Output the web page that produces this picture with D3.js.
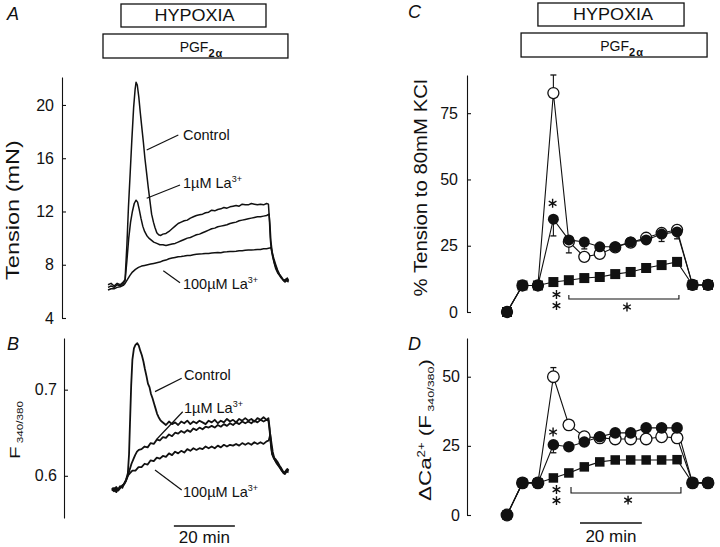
<!DOCTYPE html>
<html><head><meta charset="utf-8">
<script src="https://cdn.jsdelivr.net/npm/d3@7/dist/d3.min.js"></script>
<style>
body{margin:0;background:#fff}
svg{display:block;font-family:"Liberation Sans",Arial,Helvetica,sans-serif}
</style></head><body>
<svg id="c" width="720" height="547"></svg>
<script>
// ===== Panel A: tension traces (time in min, mN) =====
const tensionControl = [[0,6.5],[1,6.6],[2,6.4],[3,6.6],[4,6.5],[5,6.7],[5.6,6.9],[6.2,9.5],[6.7,12.3],[7.3,15.0],[7.8,17.3],[8.4,19.8],[8.9,21.2],[9.2,21.7],[9.6,21.5],[10.1,20.6],[10.6,19.4],[11.0,18.5],[11.6,17.2],[12.1,16.0],[12.7,14.8],[13.2,13.8],[13.8,12.7],[14.3,11.8],[14.9,11.2],[15.4,10.8],[16.0,10.4],[16.6,10.25],[17.3,10.2],[18,10.3],[19,10.35],[20,10.5],[21,10.7],[22,10.9],[23,11.1],[24,11.2],[25,11.3],[26,11.35],[27,11.5],[28,11.6],[29,11.7],[30,11.75],[31,11.8],[32,11.9],[33,11.95],[34,12.1],[35,12.05],[36,12.15],[37,12.2],[38,12.3],[39,12.25],[40,12.35],[41,12.4],[42,12.45],[43,12.4],[44,12.55],[45,12.5],[46,12.5],[47,12.6],[48,12.55],[49,12.5],[50,12.55],[51,12.5],[52,12.6],[52.6,12.55],[52.9,11.5],[53.2,10.0],[53.5,9.2],[54,8.6],[54.6,8.1],[55.2,7.7],[55.8,7.4],[56.4,7.2],[57,7.0],[57.6,6.8],[58.2,6.9],[58.8,7.0],[59.2,6.8]];
const tensionLa1 = [[0,6.3],[1,6.4],[2,6.3],[3,6.5],[4,6.4],[5,6.6],[5.6,6.8],[6.2,8.3],[6.8,10.0],[7.4,11.2],[8.0,12.0],[8.6,12.6],[9.2,12.85],[9.7,12.7],[10.2,12.2],[10.8,11.5],[11.4,10.9],[12.0,10.5],[12.7,10.2],[13.4,10.0],[14.2,9.85],[15,9.7],[16,9.6],[17,9.5],[18,9.5],[19,9.45],[20,9.5],[21,9.55],[22,9.6],[23,9.7],[24,9.8],[25,9.9],[26,10.0],[27,10.05],[28,10.15],[29,10.25],[30,10.3],[31,10.4],[32,10.5],[33,10.6],[34,10.7],[35,10.75],[36,10.85],[37,10.9],[38,10.95],[39,11.0],[40,11.1],[41,11.15],[42,11.2],[43,11.3],[44,11.35],[45,11.4],[46,11.45],[47,11.5],[48,11.55],[49,11.6],[50,11.6],[51,11.65],[52,11.7],[52.8,11.8],[53.1,11.0],[53.4,9.8],[53.8,9.0],[54.3,8.5],[55,8.0],[55.6,7.6],[56.2,7.3],[56.8,7.1],[57.4,6.9],[58,6.8],[58.6,6.9],[59.2,6.8]];
const tensionLa100 = [[0,6.1],[1,6.2],[2,6.2],[3,6.3],[4,6.35],[5,6.45],[5.6,6.6],[6.4,6.9],[7.2,7.2],[8,7.45],[9,7.65],[10,7.8],[11,7.9],[12,7.95],[13,8.0],[14,8.05],[15,8.1],[16,8.15],[17,8.2],[18,8.3],[19,8.35],[20,8.45],[21,8.5],[22,8.55],[23,8.6],[24,8.62],[25,8.65],[26,8.7],[27,8.7],[28,8.75],[29,8.78],[30,8.8],[31,8.82],[32,8.85],[33,8.85],[34,8.88],[35,8.9],[36,8.92],[37,8.9],[38,8.95],[39,8.97],[40,9.0],[41,9.0],[42,9.02],[43,9.05],[44,9.05],[45,9.08],[46,9.1],[47,9.1],[48,9.12],[49,9.15],[50,9.15],[51,9.2],[52,9.2],[53,9.25],[53.5,9.3],[53.9,8.8],[54.4,8.2],[55,7.7],[55.6,7.4],[56.2,7.2],[56.8,7.0],[57.4,6.85],[58,6.7],[58.6,6.8],[59.2,6.7]];

// ===== Panel B: F340/380 traces (time in min, ratio) =====
const ratioControl = [[1.3,0.583],[2,0.586],[2.7,0.581],[3.4,0.585],[4,0.588],[4.7,0.586],[5.3,0.591],[5.9,0.595],[6.5,0.603],[6.9,0.625],[7.2,0.660],[7.6,0.705],[8.0,0.735],[8.5,0.748],[9.0,0.752],[9.6,0.754],[10.1,0.751],[10.6,0.745],[11.1,0.740],[11.6,0.733],[12.1,0.724],[12.6,0.716],[13.1,0.707],[13.6,0.703],[14.1,0.695],[14.6,0.690],[15.1,0.684],[15.6,0.678],[16.1,0.672],[16.6,0.668],[17.1,0.665],[17.6,0.663],[18.3,0.661],[19,0.659],[20,0.663],[21,0.660],[22,0.662],[23,0.659],[24,0.663],[25,0.661],[26,0.664],[27,0.660],[28,0.663],[29,0.661],[30,0.664],[31,0.662],[32,0.660],[33,0.664],[34,0.662],[35,0.665],[36,0.661],[37,0.664],[38,0.662],[39,0.666],[40,0.663],[41,0.665],[42,0.662],[43,0.666],[44,0.664],[45,0.667],[46,0.664],[47,0.666],[48,0.663],[49,0.667],[50,0.665],[51,0.668],[52,0.665],[52.6,0.667],[53.0,0.655],[53.4,0.638],[53.8,0.626],[54.4,0.621],[55,0.619],[55.6,0.616],[56.2,0.612],[56.8,0.609],[57.4,0.605],[58,0.603],[58.6,0.607],[59.2,0.606]];
const ratioLa1 = [[1.3,0.586],[2,0.583],[2.7,0.587],[3.4,0.584],[4,0.586],[4.7,0.589],[5.3,0.590],[5.9,0.594],[6.5,0.600],[7.1,0.607],[7.7,0.614],[8.3,0.619],[8.9,0.624],[9.5,0.628],[10.1,0.630],[11,0.631],[12,0.634],[13,0.633],[14,0.638],[15,0.637],[16,0.642],[17,0.641],[18,0.645],[19,0.644],[20,0.648],[21,0.646],[22,0.650],[23,0.649],[24,0.652],[25,0.650],[26,0.653],[27,0.651],[28,0.655],[29,0.653],[30,0.656],[31,0.654],[32,0.657],[33,0.656],[34,0.658],[35,0.656],[36,0.659],[37,0.657],[38,0.660],[39,0.658],[40,0.661],[41,0.659],[42,0.662],[43,0.660],[44,0.663],[45,0.661],[46,0.663],[47,0.661],[48,0.664],[49,0.662],[50,0.665],[51,0.663],[52,0.665],[52.6,0.664],[53.0,0.652],[53.4,0.636],[53.8,0.625],[54.4,0.620],[55,0.617],[55.6,0.614],[56.2,0.611],[56.8,0.607],[57.4,0.604],[58,0.602],[58.6,0.605],[59.2,0.604]];
const ratioLa100 = [[1.3,0.584],[2,0.582],[2.7,0.585],[3.4,0.583],[4,0.586],[4.7,0.588],[5.3,0.591],[5.9,0.595],[6.5,0.600],[7.2,0.603],[8,0.606],[9,0.606],[10,0.610],[11,0.610],[12,0.614],[13,0.613],[14,0.618],[15,0.617],[16,0.621],[17,0.620],[18,0.623],[19,0.622],[20,0.626],[21,0.624],[22,0.628],[23,0.626],[24,0.629],[25,0.627],[26,0.631],[27,0.629],[28,0.632],[29,0.630],[30,0.632],[31,0.631],[32,0.634],[33,0.632],[34,0.634],[35,0.632],[36,0.635],[37,0.633],[38,0.636],[39,0.634],[40,0.636],[41,0.635],[42,0.637],[43,0.635],[44,0.638],[45,0.636],[46,0.638],[47,0.636],[48,0.639],[49,0.637],[50,0.639],[51,0.637],[52,0.640],[52.7,0.641],[53.2,0.648],[53.6,0.638],[54,0.628],[54.6,0.619],[55.2,0.615],[55.8,0.612],[56.4,0.609],[57,0.606],[57.6,0.603],[58.2,0.605],[58.8,0.608],[59.2,0.606]];

// ===== Panels C / D: summary means (5-min samples) =====
const samples = [0,1,2,3,4,5,6,7,8,9,10,11,12,13];
const pctControl = [0,10,10,82.6,26.5,20.8,21.9,24.4,26.2,28.0,29.8,31.0,10.2,10.2];
const pctLa1     = [0,10,10,35.0,27.2,26.4,24.6,24.6,26.4,27.2,29.4,30.2,10.2,10.2];
const pctLa100   = [0,10,10,11.3,12.0,12.8,13.2,14.3,15.1,16.6,17.7,18.9,10.2,10.2];
const dcaControl = [0,11.6,11.6,50.0,32.6,28.3,27.9,27.5,27.5,27.5,28.3,27.9,11.6,11.6];
const dcaLa1     = [0,11.6,11.6,25.4,24.7,26.4,28.3,29.7,29.7,31.5,31.5,31.5,11.6,11.6];
const dcaLa100   = [0,11.6,11.6,13.4,15.2,17.4,19.2,19.9,19.9,19.9,19.9,20.0,11.6,11.6];
const errC = [{i:3,s:"control",to:89.4},{i:3,s:"la1",to:28.7},{i:4,s:"control",to:22.3},{i:5,s:"la1",to:23.8},{i:10,s:"la1",to:26.6},{i:11,s:"la1",to:27.6}];
const errD = [{i:3,s:"control",to:53.3},{i:3,s:"la1",to:22.5}];

// ticks
const ticksA = [4,8,12,16,20];
const ticksB = [0.6,0.7];
const ticksC = [0,25,50,75];
const ticksD = [0,25,50];
// protocol bars
const hypoxiaA = [4.26,51.8], pgfA = [-1.64,59.0];
const hypoxiaC = [2.0,11.45], pgfC = [0.91,12.94];

// ===== drawing =====
const INK = "#111";
const svg = d3.select("#c");

const xT = d3.scaleLinear().domain([0,60]).range([108,291]);
const yA = d3.scaleLinear().domain([4,22.1]).range([318,77]);
const yB = d3.scaleLinear().domain([0.551,0.76]).range([518,338]);
const xC = d3.scaleLinear().domain([0,13]).range([507,708]);
const yC = d3.scaleLinear().domain([0,89.4]).range([312,75]);
const yD = d3.scaleLinear().domain([0,64]).range([515,338]);

function axis(x, scale, ticks, fmt, pad){
  const g = svg.append("g").attr("transform",`translate(${x},0)`)
    .call(d3.axisLeft(scale).tickValues(ticks).tickFormat(fmt).tickSizeInner(-4).tickSizeOuter(0).tickPadding(pad));
  g.selectAll("path,line").attr("stroke",INK).attr("stroke-width",1.1);
  g.selectAll("text").attr("fill",INK).attr("font-size",16).attr("font-family",null);
  g.attr("font-family",null);
}
axis(62, yA, ticksA, d3.format("d"), 8);
axis(64, yB, ticksB, d3.format(".1f"), 7);
axis(467, yC, ticksC, d3.format("d"), 9);
axis(467, yD, ticksD, d3.format("d"), 7);

function fitted(x, y, rot, target, build, anchor){
  const t = svg.append("text").attr("fill",INK).attr("text-anchor",anchor||"middle");
  build(t);
  const len = t.node().getComputedTextLength();
  const k = target ? target/len : 1;
  t.attr("transform",`translate(${x},${y}) rotate(${rot}) scale(${k},1)`);
  return t;
}
// axis titles
fitted(19,210,-90,140,t=>t.attr("font-size",19).text("Tension (mN)"));
fitted(20,430,-90,58,t=>{t.attr("font-size",15).text("F");
  t.append("tspan").attr("font-size",8.5).attr("dy",2.5).text(" 340/380");});
fitted(427,188,-90,217,t=>t.attr("font-size",18).text("% Tension to 80mM KCl"));
fitted(431,430,-90,142,t=>{t.attr("font-size",17).text("\u0394Ca");
  t.append("tspan").attr("font-size",10).attr("dy",-6).text("2+");
  t.append("tspan").attr("font-size",17).attr("dy",6).text(" (F");
  t.append("tspan").attr("font-size",9.5).attr("dy",2.5).text(" 340/380");
  t.append("tspan").attr("font-size",17).attr("dy",-2.5).text(")");});

// panel letters
[["A",7,20],["B",7,350],["C",408,18],["D",408,350]].forEach(([l,x,y])=>{
  svg.append("text").attr("x",x).attr("y",y).attr("font-size",18).attr("font-style","italic").attr("fill",INK).text(l);
});

// protocol boxes
function box(xs, range, y0, h, build, dx){
  const x0 = xs(range[0]), x1 = xs(range[1]);
  svg.append("rect").attr("x",x0).attr("y",y0).attr("width",x1-x0).attr("height",h)
    .attr("fill","none").attr("stroke",INK).attr("stroke-width",1.3);
  const t = svg.append("text").attr("x",(x0+x1)/2+(dx||0)).attr("y",y0+h-6).attr("text-anchor","middle").attr("fill",INK);
  build(t);
}
const hyp = t=>t.attr("font-size",16.5).attr("textLength",80).attr("lengthAdjust","spacingAndGlyphs").text("HYPOXIA");
const pgf = t=>{t.attr("font-size",14).text("PGF");
  t.append("tspan").attr("font-size",11).attr("font-weight","bold").attr("dy",5).attr("letter-spacing",1).text("2\u03b1");};
box(xT, hypoxiaA, 4, 23, hyp, 1);
box(xT, pgfA, 34, 24, pgf, 6);
box(xC, hypoxiaC, 3, 23, hyp, 2);
box(xC, pgfC, 33, 24, pgf, 8);

// traces
function trace(data, y, w){
  svg.append("path").datum(data).attr("fill","none").attr("stroke",INK).attr("stroke-width",w)
    .attr("stroke-linejoin","round")
    .attr("d", d3.line().x(d=>xT(d[0])).y(d=>y(d[1])));
}
[tensionLa100, tensionLa1, tensionControl].forEach(d=>trace(d,yA,1.5));
[ratioLa100, ratioLa1, ratioControl].forEach(d=>trace(d,yB,1.8));

// trace labels with leader lines (data coordinates)
function tlabel(y, lead, at, name, sup){
  svg.append("line").attr("x1",xT(lead[0])).attr("y1",y(lead[1])).attr("x2",xT(lead[2])).attr("y2",y(lead[3]))
    .attr("stroke",INK).attr("stroke-width",1.2);
  const t = svg.append("text").attr("x",xT(at[0])).attr("y",y(at[1])).attr("font-size",14.5).attr("fill",INK).text(name);
  if(sup) t.append("tspan").attr("font-size",9).attr("dy",-6).text(sup);
}
tlabel(yA,[12.69,16.62,23.05,17.74],[24.59,17.37],"Control");
tlabel(yA,[12.69,12.99,23.61,13.99],[24.59,13.76],"1\u00b5M La","3+");
tlabel(yA,[18.13,7.55,23.61,6.65],[24.59,6.18],"100\u00b5M La","3+");
tlabel(yB,[15.41,0.6977,24.16,0.7132],[24.92,0.7112],"Control");
tlabel(yB,[15.97,0.6424,24.49,0.6744],[24.92,0.6729],"1\u00b5M La","3+");
tlabel(yB,[15.41,0.6067,24.16,0.5835],[24.59,0.5754],"100\u00b5M La","3+");

// 20 min scale bars
function scaleBar(x0, x1, yLine, yText){
  svg.append("line").attr("x1",x0).attr("x2",x1).attr("y1",yLine).attr("y2",yLine).attr("stroke",INK).attr("stroke-width",1.6);
  svg.append("text").attr("x",(x0+x1)/2).attr("y",yText).attr("text-anchor","middle").attr("font-size",17).attr("fill",INK).text("20 min");
}
scaleBar(xT(21.6), xT(41.6), yB(0.5417), yB(0.5225));
scaleBar(xC(4.72), xC(4.72+20/5), yD(-2.9), yD(-9.8));

// summary panels
function summary(y, ctrl, la1, la100, errs, r, sq){
  const line = d3.line().x((d,i)=>xC(samples[i])).y(d=>y(d));
  [ctrl, la100, la1].forEach(v=>svg.append("path").datum(v).attr("fill","none").attr("stroke",INK).attr("stroke-width",1.1).attr("d",line));
  const src = {control:ctrl, la1:la1, la100:la100};
  errs.forEach(e=>{
    const xv = xC(e.i), y0 = y(src[e.s][e.i]), y1 = y(e.to);
    svg.append("line").attr("x1",xv).attr("x2",xv).attr("y1",y0).attr("y2",y1).attr("stroke",INK).attr("stroke-width",1.1);
    svg.append("line").attr("x1",xv-3).attr("x2",xv+3).attr("y1",y1).attr("y2",y1).attr("stroke",INK).attr("stroke-width",1.3);
  });
  svg.append("g").selectAll("circle").data(ctrl).join("circle")
    .attr("cx",(d,i)=>xC(samples[i])).attr("cy",d=>y(d)).attr("r",r)
    .attr("fill","#fff").attr("stroke",INK).attr("stroke-width",1.3);
  svg.append("g").selectAll("rect").data(la100).join("rect")
    .attr("x",(d,i)=>xC(samples[i])-sq/2).attr("y",d=>y(d)-sq/2).attr("width",sq).attr("height",sq).attr("fill",INK);
  svg.append("g").selectAll("circle").data(la1).join("circle")
    .attr("cx",(d,i)=>xC(samples[i])).attr("cy",d=>y(d)).attr("r",r).attr("fill",INK);
}
summary(yC, pctControl, pctLa1, pctLa100, errC, 5.5, 10);
summary(yD, dcaControl, dcaLa1, dcaLa100, errD, 5.8, 9.5);

// significance marks
const star = d3.symbol(d3.symbolAsterisk || d3.symbolCross, 55);
function stars(y, pts){
  pts.forEach(([i,v])=>svg.append("path").attr("d",star()).attr("transform",`translate(${xC(i)},${y(v)})`)
    .attr("fill","none").attr("stroke",INK).attr("stroke-width",1.4));
}
function bracket(y, i0, i1, v, vt){
  svg.append("path").attr("fill","none").attr("stroke",INK).attr("stroke-width",1.1)
    .attr("d",`M${xC(i0)},${y(vt)}V${y(v)}H${xC(i1)}V${y(vt)}`);
}
stars(yC, [[2.95,41.0],[3.2,6.6],[3.2,2.4],[7.76,1.9]]);
bracket(yC, 4.0, 11.12, 4.9, 6.4);
stars(yD, [[2.98,30.0],[3.2,9.2],[3.2,5.2],[7.83,5.4]]);
bracket(yD, 4.14, 11.25, 7.95, 10.1);
</script>
</body></html>
